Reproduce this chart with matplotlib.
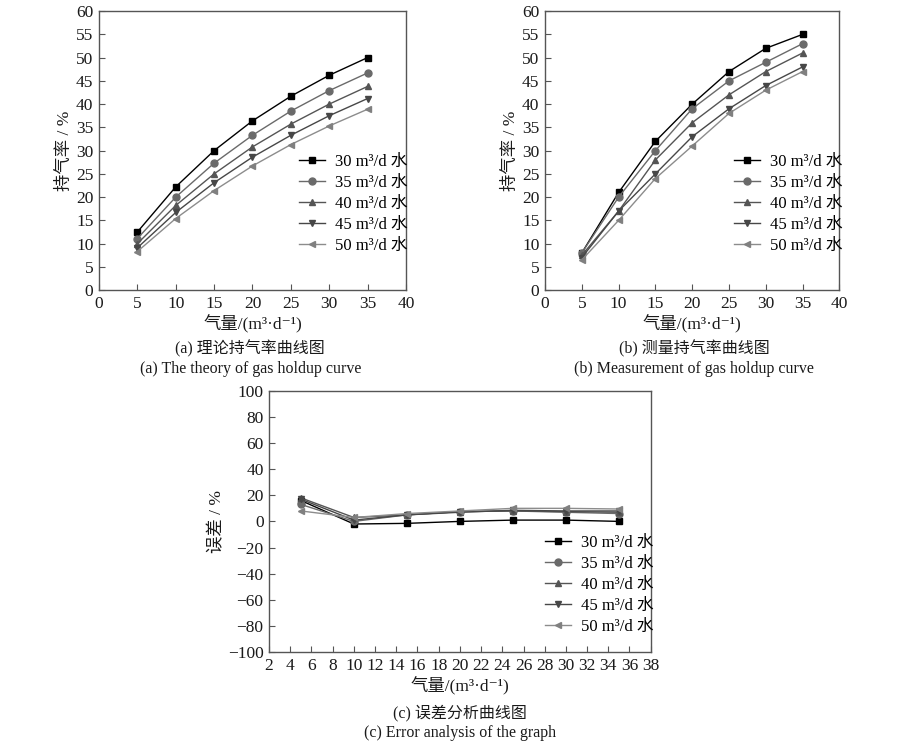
import matplotlib
matplotlib.use("Agg")
import matplotlib.pyplot as plt

plt.rcParams['font.family'] = ['Liberation Serif', 'Noto Sans CJK SC', 'DejaVu Sans']
plt.rcParams['axes.unicode_minus'] = True

gas = [5, 10, 15, 20, 25, 30, 35]
series_labels = ['30 m³/d 水', '35 m³/d 水', '40 m³/d 水', '45 m³/d 水', '50 m³/d 水']
xlabel_text = '气量/(m³·d⁻¹)'

theory_30 = [12.5, 22.2, 30.0, 36.4, 41.7, 46.2, 50.0]
theory_35 = [11.1, 20.0, 27.3, 33.3, 38.5, 42.9, 46.7]
theory_40 = [10.0, 18.2, 25.0, 30.8, 35.7, 40.0, 43.8]
theory_45 = [9.1, 16.7, 23.1, 28.6, 33.3, 37.5, 41.2]
theory_50 = [8.3, 15.4, 21.4, 26.7, 31.3, 35.3, 38.9]

meas_30 = [8.0, 21.0, 32.0, 40.0, 47.0, 52.0, 55.0]
meas_35 = [8.0, 20.0, 30.0, 39.0, 45.0, 49.0, 53.0]
meas_40 = [7.5, 17.0, 28.0, 36.0, 42.0, 47.0, 51.0]
meas_45 = [7.0, 17.0, 25.0, 33.0, 39.0, 44.0, 48.0]
meas_50 = [6.5, 15.0, 24.0, 31.0, 38.0, 43.0, 47.0]

err_30 = [16.0, -2.0, -1.5, 0.0, 1.0, 1.0, 0.0]
err_35 = [13.0, 0.0, 5.0, 7.5, 8.0, 7.0, 6.0]
err_40 = [18.0, 3.0, 5.0, 7.5, 8.0, 7.5, 7.0]
err_45 = [17.0, 1.0, 5.0, 7.0, 8.5, 8.0, 8.0]
err_50 = [8.0, 3.0, 6.0, 8.0, 10.0, 10.0, 9.5]

markers = ['s', 'o', '^', 'v', '<']
colors = ['#000000', '#6a6a6a', '#555555', '#474747', '#8c8c8c']
mcolors = ['#000000', '#6a6a6a', '#555555', '#474747', '#808080']

fig = plt.figure(figsize=(9, 7.42), dpi=100)
txtc = '#1a1a1a'
spc = '#555555'

def style(ax):
    for s in ax.spines.values():
        s.set_color(spc)
        s.set_linewidth(1.0)
    ax.tick_params(direction='in', length=4, width=0.8, color=spc, labelsize=12.5,
                   labelcolor=txtc, pad=4)

def draw(ax, data):
    for ys, m, c, mc, lab in zip(data, markers, colors, mcolors, series_labels):
        ax.plot(gas, ys, marker=m, color=c, mfc=mc, mec=mc, lw=1.0, ms=5, label=lab)

leg_kw = dict(loc='center left', frameon=False, fontsize=12, handlelength=1.55,
              handletextpad=0.6, labelspacing=0.3, borderaxespad=0)

# Panel a
axa = fig.add_axes([0.110, 0.609, 0.341, 0.376])
draw(axa, [theory_30, theory_35, theory_40, theory_45, theory_50])
axa.set_xlim(0, 40); axa.set_ylim(0, 60)
axa.set_xticks(range(0, 41, 5)); axa.set_yticks(range(0, 61, 5))
style(axa)
axa.set_ylabel('持气率 / %', fontsize=12.5, color=txtc, labelpad=2)
axa.set_xlabel(xlabel_text, fontsize=12.5, color=txtc, labelpad=2)
axa.legend(bbox_to_anchor=(0.63, 0.308), **leg_kw)
fig.text(0.278, 0.530, '(a) 理论持气率曲线图', ha='center', va='center', fontsize=11.5, color=txtc)
fig.text(0.278, 0.503, '(a) The theory of gas holdup curve', ha='center', va='center', fontsize=11.5, color=txtc)

# Panel b
axb = fig.add_axes([0.6056, 0.609, 0.327, 0.376])
draw(axb, [meas_30, meas_35, meas_40, meas_45, meas_50])
axb.set_xlim(0, 40); axb.set_ylim(0, 60)
axb.set_xticks(range(0, 41, 5)); axb.set_yticks(range(0, 61, 5))
style(axb)
axb.set_ylabel('持气率 / %', fontsize=12.5, color=txtc, labelpad=2)
axb.set_xlabel(xlabel_text, fontsize=12.5, color=txtc, labelpad=2)
axb.legend(bbox_to_anchor=(0.62, 0.308), **leg_kw)
fig.text(0.771, 0.530, '(b) 测量持气率曲线图', ha='center', va='center', fontsize=11.5, color=txtc)
fig.text(0.771, 0.503, '(b) Measurement of gas holdup curve', ha='center', va='center', fontsize=11.5, color=txtc)

# Panel c
axc = fig.add_axes([0.299, 0.1213, 0.424, 0.352])
draw(axc, [err_30, err_35, err_40, err_45, err_50])
axc.set_xlim(2, 38); axc.set_ylim(-100, 100)
axc.set_xticks(range(2, 39, 2)); axc.set_yticks(range(-100, 101, 20))
style(axc)
axc.set_ylabel('误差 / %', fontsize=12.5, color=txtc, labelpad=2)
axc.set_xlabel(xlabel_text, fontsize=12.5, color=txtc, labelpad=2)
axc.legend(bbox_to_anchor=(0.705, 0.257), **leg_kw)
fig.text(0.511, 0.039, '(c) 误差分析曲线图', ha='center', va='center', fontsize=11.5, color=txtc)
fig.text(0.511, 0.012, '(c) Error analysis of the graph', ha='center', va='center', fontsize=11.5, color=txtc)

fig.savefig('out.png', dpi=100)
